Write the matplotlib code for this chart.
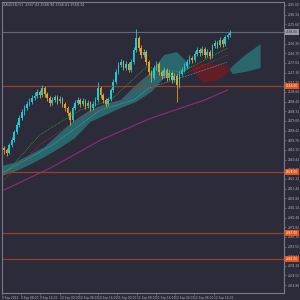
import matplotlib
matplotlib.use("Agg")
import matplotlib.pyplot as plt
import matplotlib.transforms as mtransforms

# ---------------- data ----------------
opens = [2452,2450,2447,2455,2460,2468,2475,2482,2488,2492,
         2496,2498,2502,2504,2508,2505,2512,2506,2502,2497,
         2500,2503,2499,2501,2496,2492,2487,2480,2492,2497,
         2500,2496,2499,2494,2497,2492,2496,2500,2512,2505,
         2500,2496,2501,2510,2518,2528,2535,2538,2532,2536,
         2530,2538,2550,2562,2552,2545,2548,2538,2528,2522,
         2532,2536,2528,2524,2530,2522,2527,2520,2524,2515,
         2526,2530,2534,2538,2542,2540,2546,2550,2547,2551,
         2545,2548,2544,2554,2557,2555,2560,2556,2563,2565]
closes = [2450,2447,2455,2460,2468,2475,2482,2488,2492,2496,
          2498,2502,2504,2508,2505,2512,2506,2502,2497,2500,
          2503,2499,2501,2496,2492,2487,2480,2492,2497,2500,
          2496,2499,2494,2497,2492,2496,2500,2512,2505,2500,
          2496,2501,2510,2518,2528,2535,2538,2532,2536,2530,
          2538,2550,2562,2552,2545,2548,2538,2528,2522,2532,
          2536,2528,2524,2530,2522,2527,2520,2524,2515,2526,
          2530,2534,2538,2542,2540,2546,2550,2547,2551,2545,
          2548,2544,2554,2557,2555,2560,2556,2563,2565,2568]
highs = [2454,2452,2457,2463,2470,2478,2485,2491,2495,2499,
         2502,2505,2508,2511,2510,2515,2514,2508,2504,2503,
         2505,2505,2504,2503,2498,2494,2489,2494,2500,2503,
         2502,2502,2501,2500,2499,2499,2503,2518,2514,2507,
         2502,2503,2512,2521,2531,2538,2541,2540,2539,2538,
         2541,2553,2571,2564,2555,2551,2550,2540,2530,2535,
         2539,2538,2530,2533,2532,2530,2529,2527,2526,2529,
         2533,2537,2541,2545,2544,2549,2553,2552,2554,2553,
         2551,2550,2556,2560,2559,2563,2562,2565,2567,2570]
lows = [2446,2444,2446,2453,2458,2466,2473,2480,2485,2490,
        2494,2496,2500,2502,2502,2503,2503,2499,2494,2495,
        2498,2496,2497,2493,2489,2484,2475,2478,2490,2495,
        2493,2494,2491,2492,2489,2490,2494,2498,2502,2497,
        2493,2494,2499,2508,2516,2526,2533,2530,2530,2528,
        2528,2536,2548,2549,2542,2543,2535,2525,2518,2520,
        2530,2525,2521,2522,2519,2520,2517,2518,2498,2512,
        2524,2528,2532,2536,2537,2538,2544,2544,2545,2542,
        2543,2541,2542,2552,2552,2553,2553,2554,2561,2563]

# Ichimoku cloud knots (bar index, span A, span B)
cloud_idx = [-1, 4, 10, 16, 22, 28, 34, 40, 46, 52, 58, 63, 68, 72, 74, 78, 84, 88, 90, 95, 101]
span_a = [2434,2437,2445,2453,2467,2480,2490,2496,2500,2515,2528,2545,2548,2538,2530,2518,2520,2528,2534,2545,2556]
span_b = [2424,2428,2435,2443,2452,2462,2478,2485,2492,2498,2508,2522,2524,2530,2534,2537,2536,2534,2526,2528,2532]

# moving averages (bar index, price)
ma_green_idx = [0, 14, 30, 42, 56, 70, 88]
ma_green = [2425, 2465, 2490, 2500, 2533, 2528, 2552]
ma_red_idx = [0, 14, 30, 47, 57, 70, 88]
ma_red = [2420, 2455, 2482, 2500, 2523, 2525, 2545]
ma_blue_idx = [0, 19, 38, 51, 57, 73, 88]
ma_blue = [2428, 2455, 2490, 2500, 2512, 2525, 2538]
ma_mag_idx = [0, 19, 38, 58, 79, 88]
ma_mag = [2410, 2433, 2460, 2482, 2500, 2510]

current_price = 2568.00
levels = [2514.00, 2428.00, 2367.00, 2341.00]

price_ticks = [2595.00 - 9.66 * k for k in range(30)]
time_tick_pos = [-0.8 + 7.57 * k for k in range(12)]
time_labels = ["9 Sep 2024", "9 Sep 08:00", "9 Sep 16:00", "10 Sep 00:00",
               "10 Sep 08:00", "10 Sep 16:00", "11 Sep 00:00", "11 Sep 08:00",
               "11 Sep 16:00", "12 Sep 00:00", "12 Sep 08:00", "12 Sep 16:00"]
title = "XAUUSD,H1  2567.43 2568.90 2566.81 2568.34"

# ---------------- style ----------------
BG = "#2b2b39"
FRAME = "#7a7a8a"
TXT = "#b4b4c2"
BULL = "#22c9d2"
BEAR = "#e9a024"
FS = 2.1

fig = plt.figure(figsize=(3, 3), dpi=100, facecolor=BG)
ax = fig.add_axes([2/300, 7/300, 282/300, 291/300], facecolor=BG)

# cloud
ax.fill_between(cloud_idx, span_a, span_b, where=[a >= b for a, b in zip(span_a, span_b)],
                interpolate=True, color="#2a7c7e", alpha=0.75, linewidth=0)
ax.fill_between(cloud_idx, span_a, span_b, where=[a < b for a, b in zip(span_a, span_b)],
                interpolate=True, color="#6a1c22", alpha=0.9, linewidth=0)

# moving averages
ax.plot(ma_mag_idx, ma_mag, color="#8c2a70", lw=0.9)
ax.plot(ma_blue_idx, ma_blue, color="#4aa0b8", lw=0.6, ls=(0, (1, 1)))
ax.plot(ma_red_idx, ma_red, color="#a0342c", lw=0.6, ls=(0, (1, 1)))
ax.plot(ma_green_idx, ma_green, color="#3c9a3c", lw=0.6, ls=(0, (1, 1)))

# horizontal lines
ax.axhline(current_price, color="#66667a", lw=0.8)
for lv in levels:
    ax.axhline(lv, color="#9a3e2a", lw=0.9)

# candles
idx = list(range(len(closes)))
cols = [BULL if c >= o else BEAR for o, c in zip(opens, closes)]
ax.vlines(idx, lows, highs, colors=cols, lw=0.6)
bottoms = [min(o, c) for o, c in zip(opens, closes)]
heights = [max(abs(c - o), 0.8) for o, c in zip(opens, closes)]
ax.bar(idx, heights, bottom=bottoms, width=0.65, color=cols, linewidth=0)

ax.set_xlim(-0.4, 110.2)
ax.set_ylim(2307, 2598)

for s in ax.spines.values():
    s.set_color(FRAME)
    s.set_linewidth(0.8)

ax.yaxis.tick_right()
ax.set_yticks(price_ticks)
ax.set_yticklabels([f"{p:.2f}" for p in price_ticks])
ax.tick_params(axis="y", colors=FRAME, labelcolor=TXT, labelsize=FS, length=1.5,
               width=0.5, pad=1)
ax.set_xticks(time_tick_pos)
ax.set_xticklabels(time_labels, ha="left")
ax.tick_params(axis="x", colors=FRAME, labelcolor=TXT, labelsize=FS, length=1.5,
               width=0.5, pad=0.8)

trans = mtransforms.blended_transform_factory(ax.transAxes, ax.transData)
ax.text(1.006, current_price, f"{current_price:.2f}", transform=trans, fontsize=FS,
        color="#2b2b39", va="center", ha="left", zorder=5,
        bbox=dict(boxstyle="square,pad=0.3", fc="#9a9aa8", ec="none"))
for lv in levels:
    ax.text(1.006, lv, f"{lv:.2f}", transform=trans, fontsize=FS, color="#ffffff",
            va="center", ha="left", zorder=5,
            bbox=dict(boxstyle="square,pad=0.3", fc="#e4561a", ec="none"))

ax.text(0.004, 0.997, title, transform=ax.transAxes, fontsize=2.4, color=TXT,
        va="top", ha="left")

fig.savefig("out.png", dpi=100, facecolor=BG)
